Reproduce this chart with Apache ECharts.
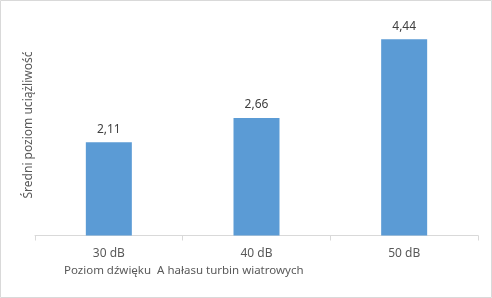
<!DOCTYPE html>
<html><head><meta charset="utf-8">
<script src="https://cdn.jsdelivr.net/npm/echarts@6/dist/echarts.min.js"></script>
<style>html,body{margin:0;padding:0;background:#fff}#c{width:492px;height:298px}</style>
</head><body><div id="c"></div>
<script>
const categories = ['30 dB', '40 dB', '50 dB'];
const values = [2.11, 2.66, 4.44];
const xTitle = 'Poziom dźwięku  A hałasu turbin wiatrowych';
const yTitle = 'Średni poziom uciążliwość';
const font = 'Noto Sans';
const chart = echarts.init(document.getElementById('c'), null, {renderer: 'canvas'});
chart.setOption({
  animation: false,
  textStyle: {fontFamily: font},
  grid: {left: 35, right: 14, top: 14.5, bottom: 62.5, containLabel: false},
  xAxis: {
    type: 'category', data: categories,
    axisLine: {lineStyle: {color: '#d9d9d9', width: 1}},
    axisTick: {show: true, length: 5, lineStyle: {color: '#d9d9d9'}},
    axisLabel: {color: '#595959', fontSize: 12, margin: 12, fontFamily: font}
  },
  yAxis: {
    type: 'value', min: 0, max: 5, interval: 1,
    axisLine: {show: false}, axisTick: {show: false}, axisLabel: {show: false},
    splitLine: {show: false},
    name: yTitle, nameLocation: 'middle', nameGap: 0, nameRotate: 90,
    nameTextStyle: {color: '#595959', fontSize: 12, fontFamily: font}
  },
  graphic: [
    {type: 'rect', shape: {x: 0.5, y: 0.5, width: 491, height: 297}, style: {fill: 'none', stroke: '#d9d9d9', lineWidth: 1}, silent: true},
    {type: 'text', left: 64, top: 265, style: {text: xTitle, fill: '#595959', font: '11.5px "Noto Sans"'}}
  ],
  series: [{
    type: 'bar', data: values, barWidth: 46,
    itemStyle: {color: '#5B9BD5'},
    label: {show: true, position: 'top', distance: 7, color: '#404040', fontSize: 12, fontFamily: font,
      formatter: p => p.value.toFixed(2).replace('.', ',')}
  }]
});
</script></body></html>
